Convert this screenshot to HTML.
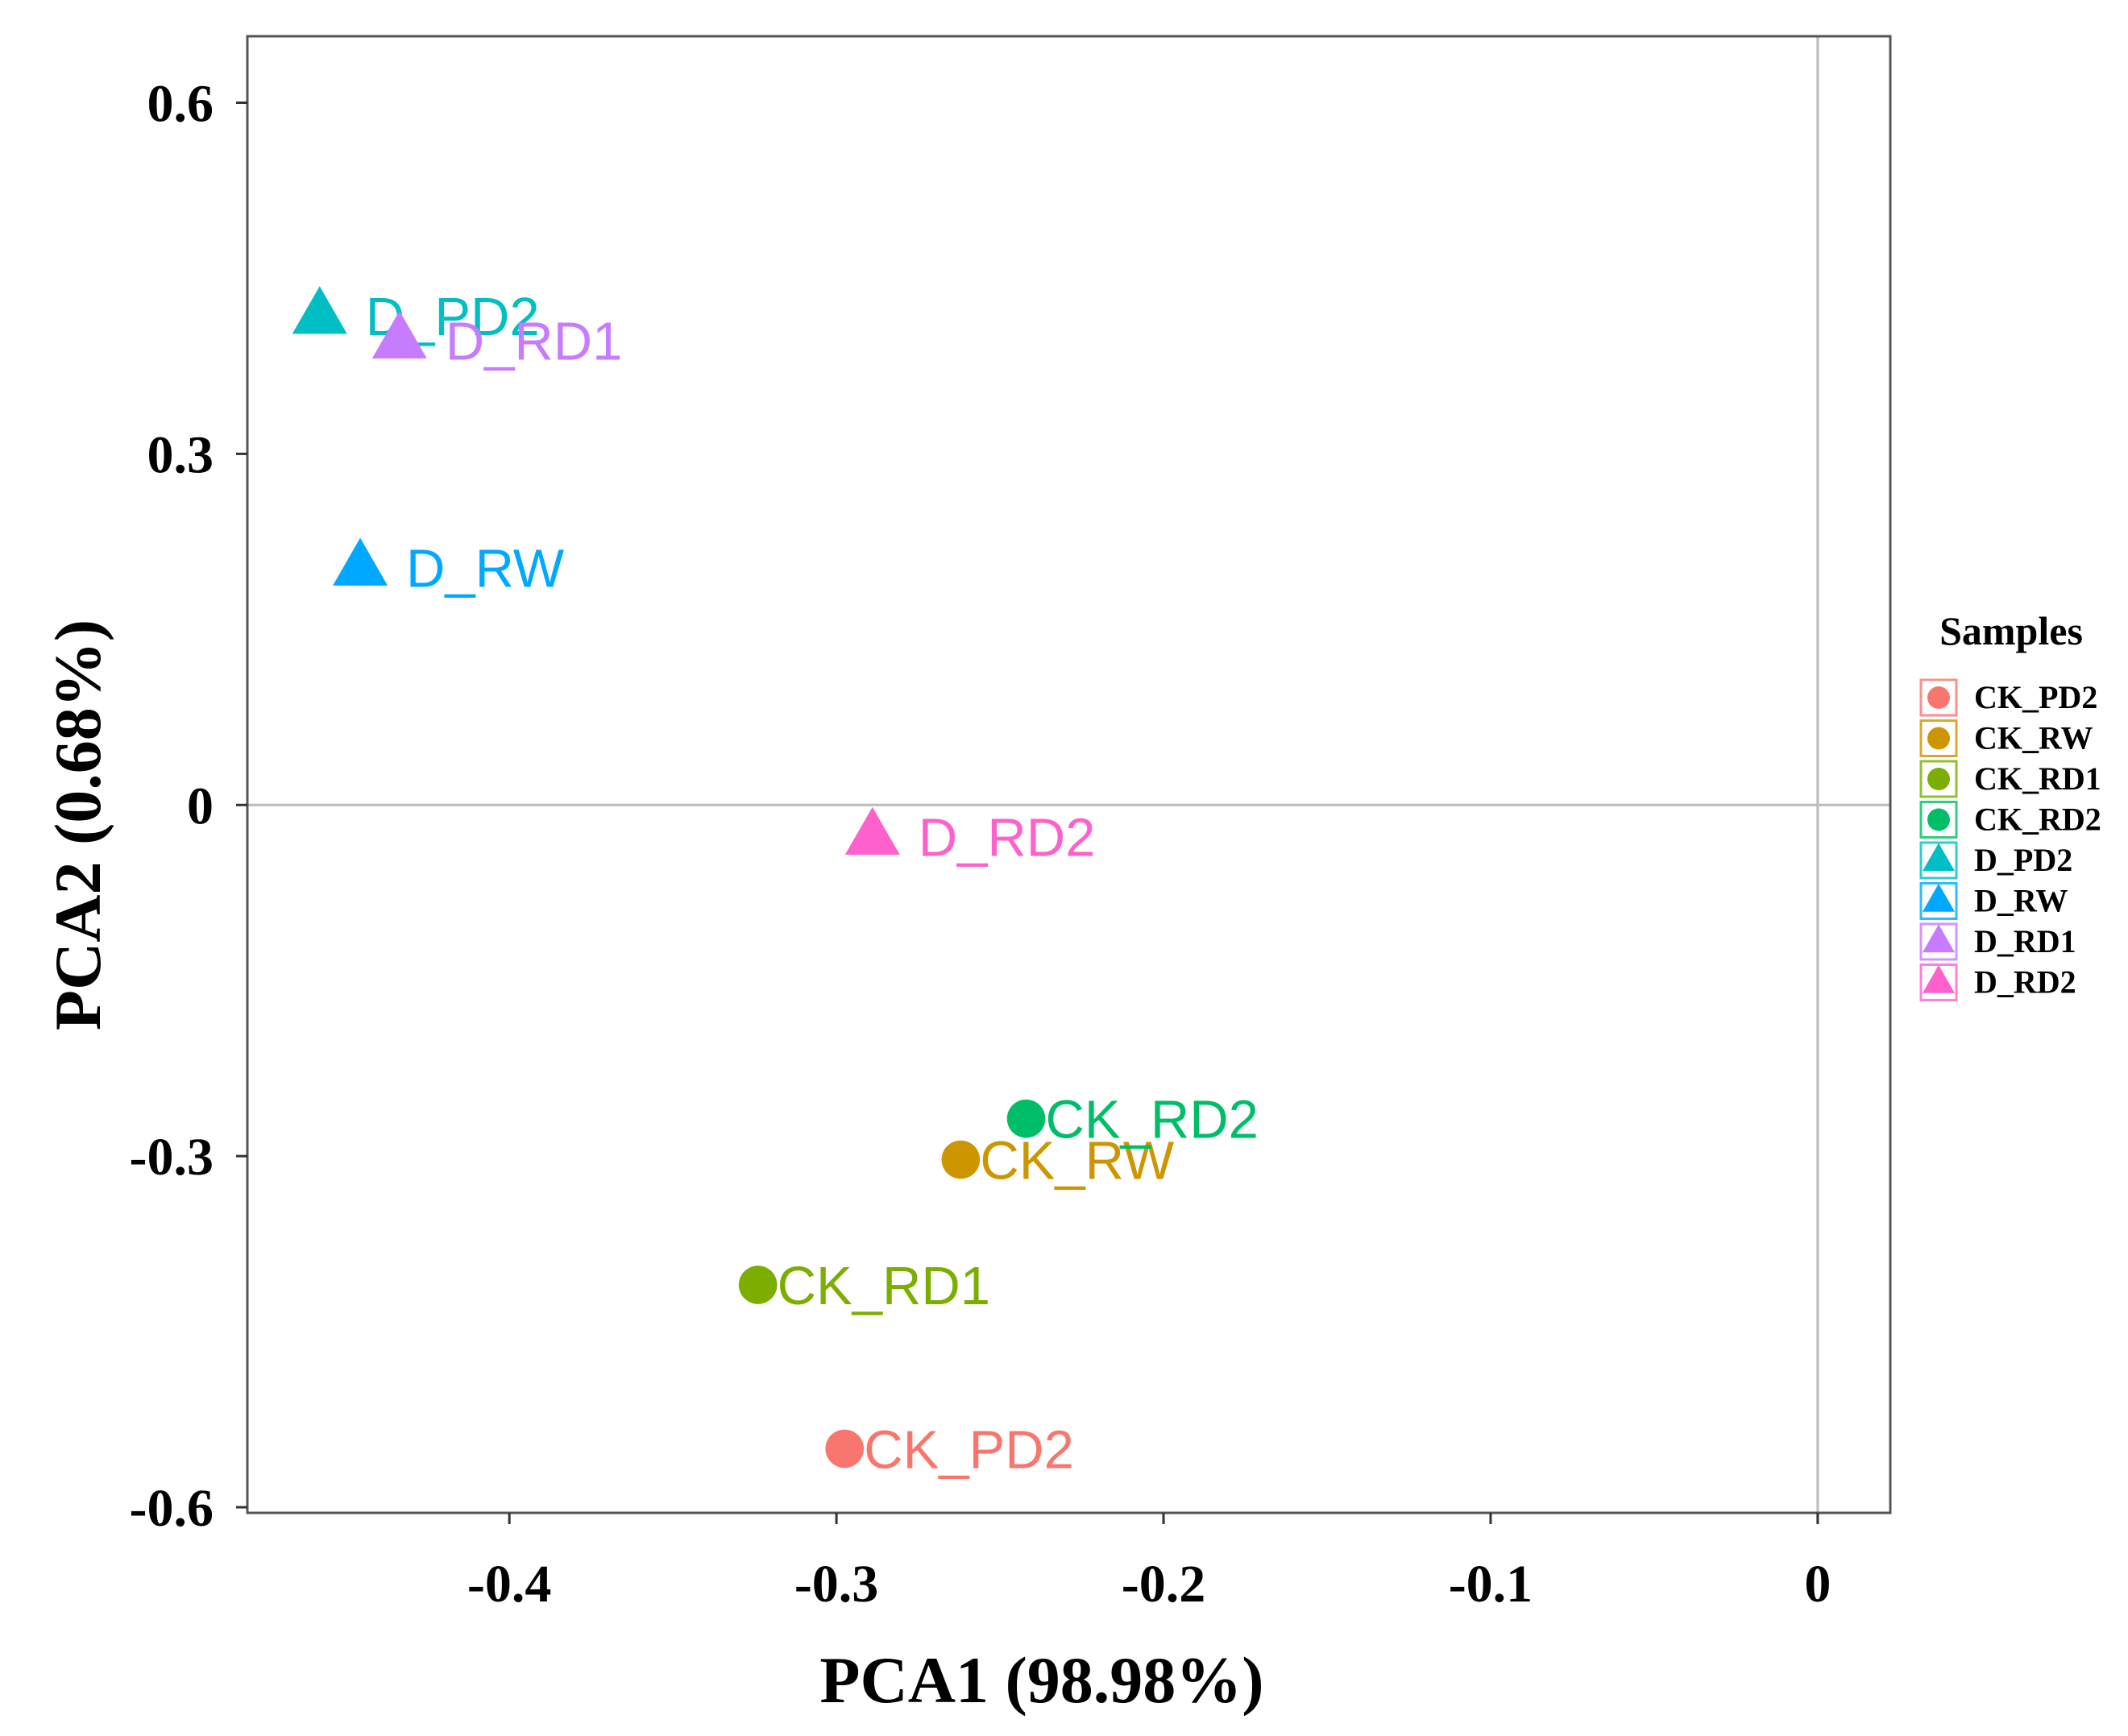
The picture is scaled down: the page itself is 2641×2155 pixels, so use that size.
<!DOCTYPE html>
<html><head><meta charset="utf-8">
<style>html,body{margin:0;padding:0;background:#fff;}svg{display:block;}</style>
</head><body>
<svg id="chart" width="2641" height="2155" viewBox="0 0 2641 2155" xmlns="http://www.w3.org/2000/svg">
<g id="grid"></g>
<g id="axes"></g>
<g id="points"></g>
<g id="legend"></g>
</svg>
<script>
const samples = ["CK_PD2","CK_RW","CK_RD1","CK_RD2","D_PD2","D_RW","D_RD1","D_RD2"];
const pc1 = [-0.2975,-0.262,-0.324,-0.242,-0.458,-0.4456,-0.4336,-0.289];
const pc2 = [-0.550,-0.303,-0.410,-0.268,0.418,0.203,0.397,-0.027];
const shapes = ["circle","circle","circle","circle","triangle","triangle","triangle","triangle"];
const colors = ["#F8766D","#CD9600","#7CAE00","#00BE67","#00BFC4","#00A9FF","#C77CFF","#FF61CC"];
const xTicks = [-0.4,-0.3,-0.2,-0.1,0];
const xTickLabels = ["-0.4","-0.3","-0.2","-0.1","0"];
const yTicks = [0.6,0.3,0,-0.3,-0.6];
const yTickLabels = ["0.6","0.3","0","-0.3","-0.6"];

const NS="http://www.w3.org/2000/svg";
const L=307,R=2346,T=45,B=1878;
const xmin=-0.4801,xmax=0.0222,ymin=-0.6048,ymax=0.6568;
const sx=v=>L+(v-xmin)/(xmax-xmin)*(R-L);
const sy=v=>B-(v-ymin)/(ymax-ymin)*(B-T);
function mk(tag,attrs,parent){const e=document.createElementNS(NS,tag);for(const k in attrs)e.setAttribute(k,attrs[k]);parent.appendChild(e);return e;}
const grid=document.getElementById('grid'),axes=document.getElementById('axes'),pts=document.getElementById('points'),leg=document.getElementById('legend');
const serif='"Liberation Serif", serif', sans='"Liberation Sans", sans-serif';

let g1=mk('line',{x1:L,x2:R,y1:sy(0),y2:sy(0),stroke:'#bbb','stroke-width':3},grid);


let g2=mk('line',{x1:sx(0),x2:sx(0),y1:T,y2:B,stroke:'#bbb','stroke-width':3},grid);



let fr=mk('rect',{x:L,y:T,width:R-L,height:B-T,fill:'none',stroke:'#555','stroke-width':3},axes);



xTicks.forEach((v,i)=>{
  let t=mk('line',{x1:sx(v),x2:sx(v),y1:B,y2:B+14,stroke:'#333','stroke-width':3},axes);
  
  
  let tx=mk('text',{x:sx(v),y:1988,'text-anchor':'middle','font-family':serif,'font-weight':'bold','font-size':66,fill:'#000'},axes);
  tx.textContent=xTickLabels[i];
  
  
});
yTicks.forEach((v,i)=>{
  let t=mk('line',{x1:L-14,x2:L,y1:sy(v),y2:sy(v),stroke:'#333','stroke-width':3},axes);
  
  
  let tx=mk('text',{x:265,y:sy(v)+23,'text-anchor':'end','font-family':serif,'font-weight':'bold','font-size':66,fill:'#000'},axes);
  tx.textContent=yTickLabels[i];
  
  
});
let xt=mk('text',{x:1293,y:2113,'text-anchor':'middle','font-family':serif,'font-weight':'bold','font-size':82,fill:'#000'},axes);
xt.textContent='PCA1 (98.98%)';


let yt=mk('text',{x:0,y:0,'text-anchor':'middle','font-family':serif,'font-weight':'bold','font-size':82,fill:'#000',transform:'translate(124,1024) rotate(-90)'},axes);
yt.textContent='PCA2 (0.68%)';



function marker(shape,cx,cy,size,color,parent){
  if(shape==='circle') return mk('circle',{cx:cx,cy:cy,r:size*0.35,fill:color},parent);
  const h=size*0.87;
  return mk('polygon',{points:`${cx},${cy-h*0.62} ${cx-size/2},${cy+h*0.38} ${cx+size/2},${cy+h*0.38}`,fill:color},parent);
}
samples.forEach((s,i)=>{
  const cx=sx(pc1[i]),cy=sy(pc2[i]);
  let m=marker(shapes[i],cx,cy,68,colors[i],pts);
  
  
  let lb=mk('text',{x:cx+(shapes[i]==='circle'?24:57),y:cy+24,'font-family':sans,'font-size':67,fill:colors[i]},pts);
  lb.textContent=s;
  
  
});

let lt=mk('text',{x:2496,y:800,'text-anchor':'middle','font-family':serif,'font-weight':'bold','font-size':50,fill:'#000'},leg);
lt.textContent='Samples';


samples.forEach((s,i)=>{
  const cy=866+i*50.5;
  let bx=mk('rect',{x:2384,y:cy-22,width:44,height:44,fill:'#fff',stroke:colors[i],'stroke-width':3,opacity:0.8},leg);
  
  
  let m=marker(shapes[i],2406,cy,40,colors[i],leg);
  
  
  let tx=mk('text',{x:2450,y:cy+13,'font-family':serif,'font-weight':'bold','font-size':40,fill:'#000'},leg);
  tx.textContent=s;
  
  
});
</script>
</body></html>
